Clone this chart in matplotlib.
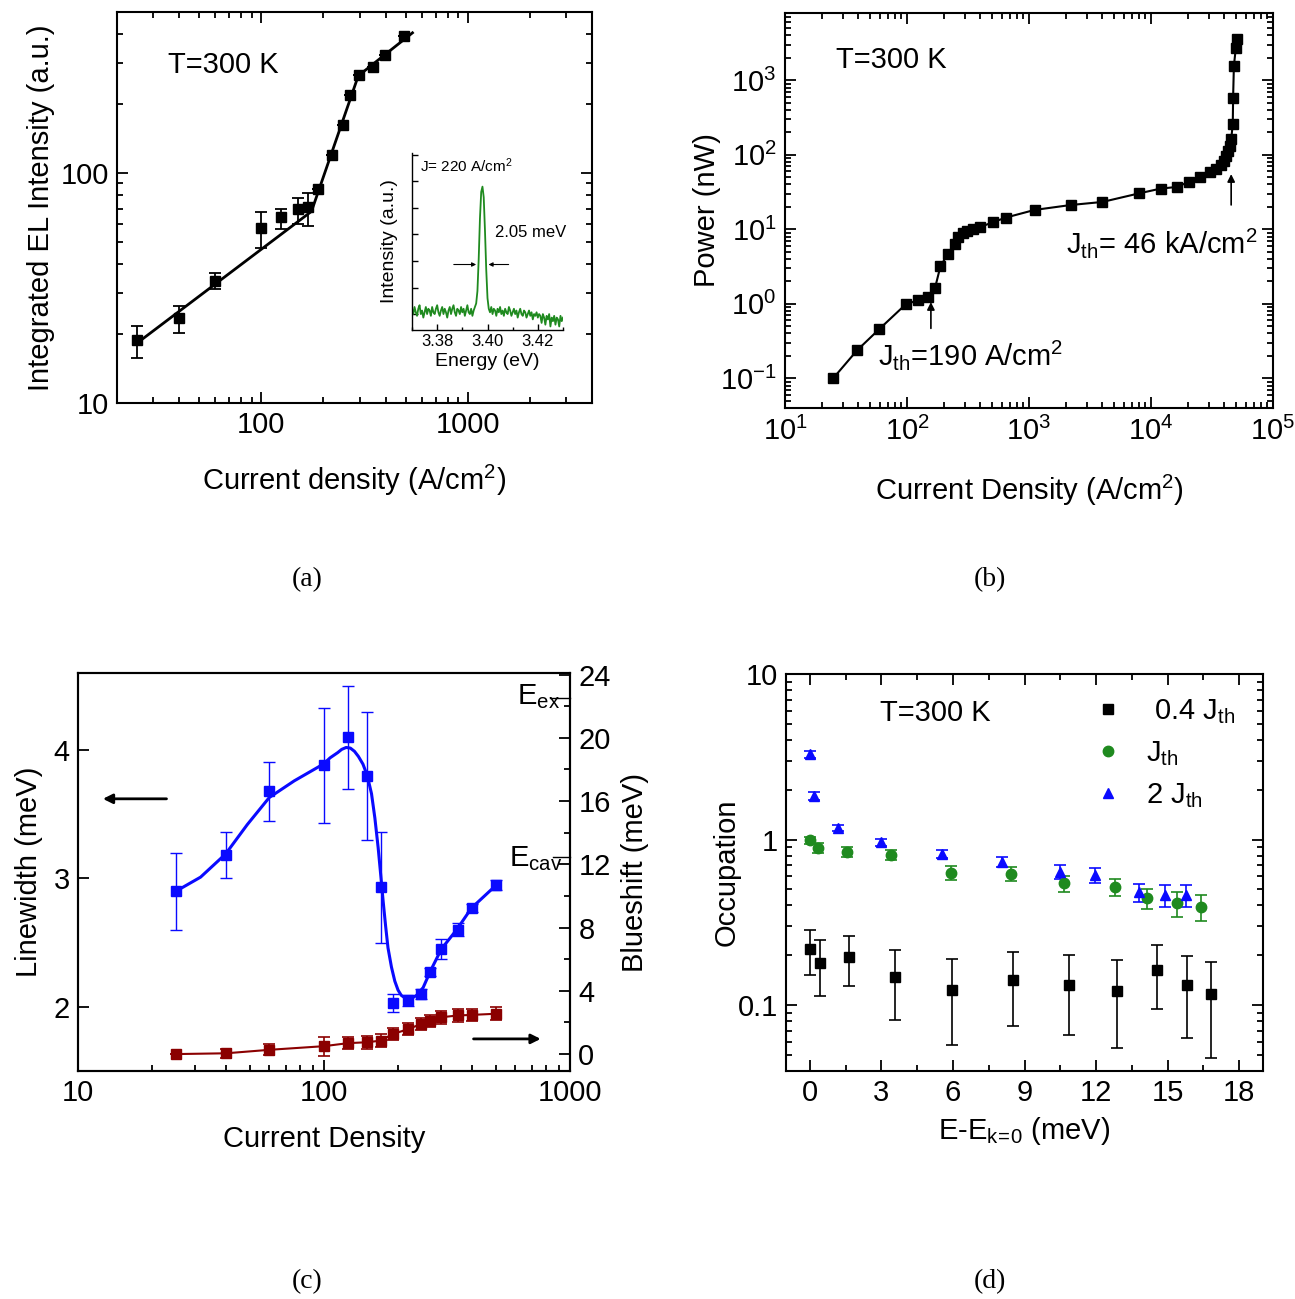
import numpy as np
import matplotlib
matplotlib.use("Agg")
import matplotlib.pyplot as plt
from matplotlib.ticker import LogLocator, NullFormatter, MultipleLocator, FixedLocator
from matplotlib.lines import Line2D

plt.rcParams['font.family'] = ['Liberation Sans', 'DejaVu Sans']
plt.rcParams['mathtext.default'] = 'regular'
plt.rcParams['mathtext.fontset'] = 'custom'
plt.rcParams['mathtext.rm'] = 'Liberation Sans'
plt.rcParams['axes.unicode_minus'] = False
plt.rcParams['xtick.direction'] = 'in'
plt.rcParams['ytick.direction'] = 'in'
plt.rcParams['axes.linewidth'] = 1.5
FS = 21

# ---- (a) integrated EL intensity vs current density
J_a = [25, 40, 60, 100, 125, 150, 168, 188, 219, 249, 268, 298, 346, 396, 492]
I_a = [18.7, 23.4, 34, 57.7, 64.4, 69.7, 71, 84.8, 119, 161, 218, 267, 288, 324, 393]
I_a_up = [2.8, 3.1, 2.8, 9.9, 5.6, 8.3, 11, 0, 0, 0, 0, 0, 0, 0, 0]
I_a_dn = [3.0, 3.3, 2.7, 10.7, 7.4, 9.7, 12, 0, 0, 0, 0, 0, 0, 0, 0]
fit_x = [25, 175, 295, 540]
fit_y = [18.2, 68, 264, 406]

# inset spectrum at J = 220 A/cm2 (0.5 meV steps from 3.370 eV)
E_start, E_step = 3.370, 0.0005
spec = [0.12, 0.09, 0.13, 0.10, 0.08, 0.12, 0.14, 0.09, 0.11, 0.07,
        0.10, 0.13, 0.09, 0.12, 0.11, 0.08, 0.13, 0.10, 0.09, 0.12,
        0.14, 0.10, 0.08, 0.11, 0.13, 0.09, 0.12, 0.10, 0.07, 0.11,
        0.13, 0.09, 0.12, 0.14, 0.10, 0.08, 0.12, 0.11, 0.09, 0.13,
        0.10, 0.12, 0.08, 0.11, 0.14, 0.10, 0.09, 0.12, 0.08, 0.11,
        0.13, 0.15, 0.22, 0.40, 0.63, 0.78, 0.81, 0.75, 0.56, 0.34, 0.18, 0.12,
        0.10, 0.13, 0.09, 0.12, 0.11, 0.08, 0.12, 0.10, 0.13, 0.09,
        0.11, 0.08, 0.12, 0.10, 0.09, 0.13, 0.11, 0.08, 0.10, 0.12,
        0.09, 0.11, 0.07, 0.10, 0.12, 0.09, 0.08, 0.11, 0.10, 0.07,
        0.09, 0.11, 0.08, 0.10, 0.06, 0.09, 0.08, 0.10, 0.07, 0.09,
        0.08, 0.04, 0.09, 0.07, 0.03, 0.08, 0.06, 0.09, 0.02, 0.07,
        0.05, 0.08, 0.03, 0.07, 0.06, 0.02, 0.08, 0.05, 0.07]

# ---- (b) output power vs current density
J_b = [24.8, 39, 59, 98.6, 124, 149, 170, 188, 215, 246, 260, 286, 312, 350, 397,
       508, 649, 1110, 2200, 4000, 8000, 12000, 16200, 20300, 25000, 30600, 34200,
       37400, 39700, 41200, 42800, 44400, 45400, 46800, 47100, 47800, 49600, 50800]
P_b = [0.1, 0.238, 0.455, 1.0, 1.11, 1.24, 1.65, 3.2, 4.6, 6.3, 8.0, 9.0, 9.4, 10.2, 10.7,
       12.5, 14.4, 18.2, 21.2, 23.3, 30.4, 35.2, 37, 43, 50, 59, 65,
       73, 83, 96, 113, 131, 162, 257, 585, 1560, 2740, 3620]

# ---- (c) linewidth and blueshift
J_c = [25, 40, 60, 100, 125, 150, 170, 190, 220, 249, 270, 300, 349, 401, 500]
lw_c = [2.90, 3.18, 3.68, 3.88, 4.10, 3.80, 2.93, 2.03, 2.05, 2.10, 2.27, 2.45, 2.60, 2.77, 2.95]
lw_err = [0.30, 0.18, 0.23, 0.45, 0.40, 0.50, 0.43, 0.07, 0.04, 0.04, 0.03, 0.08, 0.05, 0.03, 0.04]
bs_c = [0.0, 0.05, 0.27, 0.5, 0.69, 0.75, 0.85, 1.26, 1.58, 1.91, 2.1, 2.33, 2.44, 2.48, 2.55]
bs_err = [0, 0.3, 0.35, 0.6, 0.4, 0.4, 0.4, 0.4, 0.4, 0.4, 0.4, 0.4, 0.4, 0.4, 0.4]
curve_x = [25, 31.5, 39.8, 48.8, 59.9, 75.7, 99.3, 106, 113.7, 118, 123, 128, 133, 138,
           144, 150, 156, 161, 166, 170, 174, 178, 182, 188, 194, 200, 206, 213, 220,
           229, 238, 253, 271, 300, 346, 398, 496]
curve_y = [2.90, 3.01, 3.19, 3.42, 3.63, 3.76, 3.89, 3.94, 3.98, 4.005, 4.02, 4.015, 3.99, 3.95,
           3.89, 3.80, 3.66, 3.47, 3.24, 3.03, 2.82, 2.63, 2.46, 2.31, 2.20, 2.13, 2.09, 2.07, 2.06,
           2.07, 2.09, 2.15, 2.28, 2.45, 2.60, 2.77, 2.94]
E_ex, E_cav = 22.5, 12.46

# ---- (d) occupation vs energy
dE_k = [0, 0.41, 1.65, 3.55, 5.94, 8.5, 10.87, 12.88, 14.56, 15.8, 16.8]
occ_k = [0.217, 0.18, 0.196, 0.148, 0.124, 0.141, 0.133, 0.121, 0.162, 0.132, 0.116]
occ_k_hi = [0.284, 0.247, 0.263, 0.215, 0.191, 0.208, 0.2, 0.188, 0.23, 0.198, 0.181]
occ_k_lo = [0.151, 0.113, 0.130, 0.081, 0.0575, 0.0746, 0.066, 0.055, 0.095, 0.063, 0.048]
dE_g = [0, 0.33, 1.54, 3.39, 5.91, 8.42, 10.65, 12.8, 14.12, 15.4, 16.4]
occ_g = [0.99, 0.89, 0.84, 0.81, 0.63, 0.62, 0.545, 0.516, 0.443, 0.412, 0.394]
occ_g_err = [0.05, 0.06, 0.06, 0.06, 0.06, 0.06, 0.06, 0.06, 0.06, 0.07, 0.07]
dE_b = [0, 0.17, 1.16, 2.97, 5.53, 8.06, 10.49, 11.97, 13.79, 14.89, 15.77]
occ_b = [3.28, 1.83, 1.18, 0.96, 0.82, 0.73, 0.64, 0.61, 0.48, 0.46, 0.46]
occ_b_err = [0.15, 0.1, 0.05, 0.05, 0.05, 0.05, 0.06, 0.06, 0.06, 0.07, 0.07]

GREEN = '#1f8a1f'
BLUE = '#0a0aff'
DRED = '#8b0000'


def style(ax, top=True, right=True):
    ax.tick_params(which='both', top=top, right=right, labelsize=FS, width=1.3, pad=6)
    ax.tick_params(which='major', length=8)
    ax.tick_params(which='minor', length=4)


fig = plt.figure(figsize=(12.95, 12.99), dpi=100)

# ================= (a)
ax = fig.add_axes([117/1295, 1-403/1299, 475/1295, 391/1299])
ax.set_xscale('log')
ax.set_yscale('log')
ax.errorbar(J_a, I_a, yerr=[I_a_dn, I_a_up], fmt='s', color='k', ms=7,
            elinewidth=1.3, capsize=4, capthick=1.3, zorder=3)
ax.plot(fit_x, fit_y, '-', color='k', lw=2)
ax.set_xlim(20, 4000)
ax.set_ylim(10, 500)
ax.xaxis.set_major_locator(FixedLocator([100, 1000]))
ax.set_xticklabels(['100', '1000'])
ax.yaxis.set_major_locator(FixedLocator([10, 100]))
ax.set_yticklabels(['10', '100'])
ax.xaxis.set_minor_locator(LogLocator(subs=np.arange(2, 10)))
ax.yaxis.set_minor_locator(LogLocator(subs=np.arange(2, 10)))
ax.xaxis.set_minor_formatter(NullFormatter())
ax.yaxis.set_minor_formatter(NullFormatter())
style(ax)
ax.set_xlabel('Current density (A/cm$^2$)', fontsize=FS)
ax.set_ylabel('Integrated EL Intensity (a.u.)', fontsize=FS)
ax.xaxis.set_label_coords(0.5, -0.153)
ax.yaxis.set_label_coords(-0.131, 0.5)
ax.text(0.107, 0.864, 'T=300 K', transform=ax.transAxes, fontsize=FS, va='center')

# inset
axi = fig.add_axes([412/1295, 1-330/1299, 151/1295, 177/1299])
E = E_start + E_step*np.arange(len(spec))
axi.plot(E, spec, '-', color=GREEN, lw=1.3)
axi.set_xlim(3.37, 3.43)
axi.set_ylim(0, 1)
axi.spines['top'].set_visible(False)
axi.spines['right'].set_visible(False)
axi.spines['left'].set_linewidth(1.0)
axi.spines['bottom'].set_linewidth(1.0)
axi.set_xticks([3.38, 3.40, 3.42])
axi.set_xticklabels(['3.38', '3.40', '3.42'])
axi.xaxis.set_minor_locator(MultipleLocator(0.01))
axi.set_yticks([0.09, 0.24, 0.39, 0.54, 0.69, 0.84, 0.99])
axi.set_yticklabels([])
axi.tick_params(which='both', labelsize=12, width=1.0, pad=3)
axi.tick_params(which='major', length=4)
axi.tick_params(which='minor', length=2.5)
axi.set_xlabel('Energy (eV)', fontsize=14)
axi.set_ylabel('Intensity (a.u.)', fontsize=14)
axi.xaxis.set_label_coords(0.5, -0.13)
axi.yaxis.set_label_coords(-0.093, 0.5)
axi.text(0.05, 0.93, 'J= 220 A/cm$^2$', transform=axi.transAxes, fontsize=11, va='center')
axi.text(0.55, 0.55, '2.05 meV', transform=axi.transAxes, fontsize=12, va='center')
axi.annotate('', xy=(3.3966, 0.37), xytext=(3.3855, 0.37),
             arrowprops=dict(arrowstyle='-|>', color='k', lw=0.8, mutation_scale=6))
axi.annotate('', xy=(3.3993, 0.37), xytext=(3.4095, 0.37),
             arrowprops=dict(arrowstyle='-|>', color='k', lw=0.8, mutation_scale=6))

# ================= (b)
ax = fig.add_axes([785/1295, 1-408/1299, 488/1295, 395/1299])
ax.set_xscale('log')
ax.set_yscale('log')
ax.plot(J_b, P_b, 's-', color='k', ms=6.5, lw=1.5)
ax.set_xlim(10, 1e5)
ax.set_ylim(0.04, 8000)
ax.xaxis.set_major_locator(LogLocator(numticks=10))
ax.yaxis.set_major_locator(LogLocator(numticks=10))
ax.xaxis.set_minor_locator(LogLocator(subs=np.arange(2, 10), numticks=20))
ax.yaxis.set_minor_locator(LogLocator(subs=np.arange(2, 10), numticks=20))
ax.xaxis.set_minor_formatter(NullFormatter())
ax.yaxis.set_minor_formatter(NullFormatter())
style(ax)
ax.set_xlabel('Current Density (A/cm$^2$)', fontsize=FS)
ax.set_ylabel('Power (nW)', fontsize=FS)
ax.xaxis.set_label_coords(0.5, -0.165)
ax.yaxis.set_label_coords(-0.131, 0.5)
ax.text(0.105, 0.881, 'T=300 K', transform=ax.transAxes, fontsize=FS, va='center')
ax.text(0.19, 0.134, 'J$_{th}$=190 A/cm$^2$', transform=ax.transAxes, fontsize=FS, va='center')
ax.text(0.576, 0.418, 'J$_{th}$= 46 kA/cm$^2$', transform=ax.transAxes, fontsize=FS, va='center')
ax.annotate('', xy=(157, 1.15), xytext=(157, 0.43),
            arrowprops=dict(arrowstyle='-|>', color='k', lw=1.2, mutation_scale=11))
ax.annotate('', xy=(45400, 60), xytext=(45400, 19.5),
            arrowprops=dict(arrowstyle='-|>', color='k', lw=1.2, mutation_scale=11))

# ================= (c)
ax = fig.add_axes([78/1295, 1-1071/1299, 492/1295, 398/1299])
ax2 = ax.twinx()
ax.set_xscale('log')
ax.errorbar(J_c, lw_c, yerr=lw_err, fmt='s', color=BLUE, ms=7,
            elinewidth=1.0, capsize=4, capthick=1.0, zorder=3)
ax.plot(curve_x, curve_y, '-', color=BLUE, lw=2.2)
ax2.errorbar(J_c, bs_c, yerr=bs_err, fmt='s-', color=DRED, ms=6.5, lw=1.5,
             elinewidth=1.2, capsize=4, capthick=1.2)
ax.set_xlim(10, 1000)
ax.set_ylim(1.5, 4.6)
ax2.set_ylim(-1.07, 24.1)
ax.set_xticks([10, 100, 1000])
ax.set_xticklabels(['10', '100', '1000'])
ax.xaxis.set_minor_locator(LogLocator(subs=np.arange(2, 10)))
ax.xaxis.set_minor_formatter(NullFormatter())
ax.set_yticks([2, 3, 4])
ax2.set_yticks([0, 4, 8, 12, 16, 20, 24])
ax2.yaxis.set_minor_locator(MultipleLocator(2))
ax.tick_params(which='both', top=False, right=False, labelsize=FS, width=1.3, pad=6)
ax.tick_params(which='major', length=8)
ax.tick_params(which='minor', length=4)
ax2.tick_params(which='both', labelsize=FS, width=1.3, pad=6)
ax2.tick_params(which='major', length=8)
ax2.tick_params(which='minor', length=4)
ax.set_xlabel('Current Density', fontsize=FS)
ax.set_ylabel('Linewidth (meV)', fontsize=FS)
ax2.set_ylabel('Blueshift (meV)', fontsize=FS)
ax.xaxis.set_label_coords(0.5, -0.136)
ax.yaxis.set_label_coords(-0.071, 0.5)
ax2.yaxis.set_label_coords(1.104, 0.5)
ax2.plot([830, 1000], [E_ex, E_ex], '-', color='k', lw=1.0, clip_on=False)
ax2.plot([850, 1000], [E_cav, E_cav], '-', color='k', lw=1.0, clip_on=False)
ax2.text(910, 22.1, 'E$_{ex}$', fontsize=FS, ha='right', va='baseline')
ax2.text(930, 11.87, 'E$_{cav}$', fontsize=FS, ha='right', va='baseline')
ax.annotate('', xy=(12.3, 3.62), xytext=(23.5, 3.62),
            arrowprops=dict(arrowstyle='-|>', color='k', lw=2, mutation_scale=14))
ax2.annotate('', xy=(780, 0.96), xytext=(395, 0.96),
             arrowprops=dict(arrowstyle='-|>', color='k', lw=2, mutation_scale=14))

# ================= (d)
ax = fig.add_axes([786/1295, 1-1071/1299, 477/1295, 397/1299])
ax.set_yscale('log')
ek = [np.array(occ_k) - np.array(occ_k_lo), np.array(occ_k_hi) - np.array(occ_k)]
ax.errorbar(dE_k, occ_k, yerr=ek, fmt='s', color='k', ms=7,
            elinewidth=1.2, capsize=4, capthick=1.2)
ax.errorbar(dE_g, occ_g, yerr=occ_g_err, fmt='o', color=GREEN, ms=7.5,
            elinewidth=1.2, capsize=4, capthick=1.2)
ax.errorbar(dE_b, occ_b, yerr=occ_b_err, fmt='^', color=BLUE, ms=7.5,
            elinewidth=1.2, capsize=4, capthick=1.2)
ax.set_xlim(-1, 19)
ax.set_ylim(0.04, 10)
ax.set_xticks([0, 3, 6, 9, 12, 15, 18])
ax.xaxis.set_minor_locator(MultipleLocator(1.5))
ax.yaxis.set_major_locator(FixedLocator([0.1, 1, 10]))
ax.set_yticklabels(['0.1', '1', '10'])
ax.yaxis.set_minor_locator(LogLocator(subs=np.arange(2, 10)))
ax.yaxis.set_minor_formatter(NullFormatter())
style(ax)
ax.set_xlabel(r'E-E$_{k\!=\!0}$ (meV)', fontsize=FS)
ax.set_ylabel('Occupation', fontsize=FS)
ax.xaxis.set_label_coords(0.5, -0.111)
ax.yaxis.set_label_coords(-0.096, 0.5)
ax.text(0.197, 0.902, 'T=300 K', transform=ax.transAxes, fontsize=FS, va='center')
handles = [Line2D([], [], marker='s', ls='none', color='k', ms=7),
           Line2D([], [], marker='o', ls='none', color=GREEN, ms=7.5),
           Line2D([], [], marker='^', ls='none', color=BLUE, ms=7.5)]
ax.legend(handles, [' 0.4 J$_{th}$', 'J$_{th}$', '2 J$_{th}$'], loc='upper left',
          bbox_to_anchor=(0.62, 0.97), frameon=False, fontsize=FS,
          handletextpad=0.8, labelspacing=0.45, handlelength=1.0, borderaxespad=0)

# panel letters
for lab, xp, yp in [('(a)', 307, 580), ('(b)', 990, 580), ('(c)', 307, 1282), ('(d)', 990, 1282)]:
    fig.text(xp/1295, 1-yp/1299, lab, fontsize=20, family='Liberation Serif',
             ha='center', va='center')

fig.savefig('out.png', dpi=100)
